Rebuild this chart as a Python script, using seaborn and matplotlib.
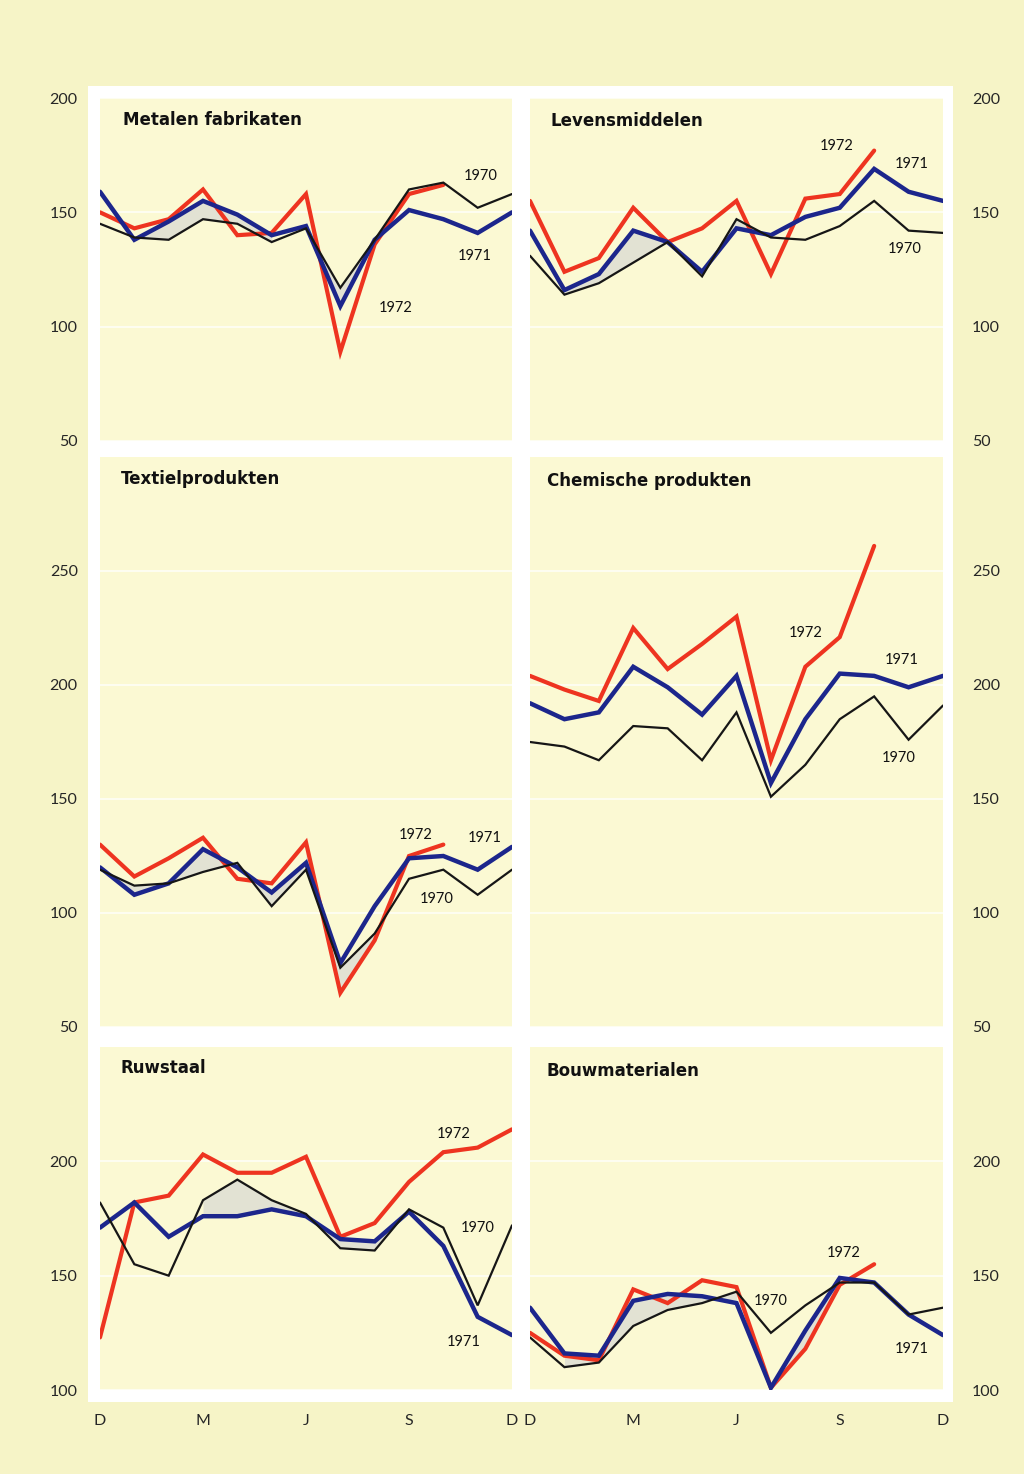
import matplotlib
matplotlib.use("Agg")
import matplotlib.pyplot as plt
from matplotlib.patches import Rectangle
import pandas as pd
import seaborn as sns

# months Dec .. Dec
months = list(range(13))
month_labels = ["D", "", "", "M", "", "", "J", "", "", "S", "", "", "D"]

# Metalen fabrikaten
metalen_1970 = [145, 139, 138, 147, 145, 137, 143, 117, 138, 160, 163, 152, 158]
metalen_1971 = [159, 138, 146, 155, 149, 140, 144, 109, 138, 151, 147, 141, 150]
metalen_1972 = [150, 143, 147, 160, 140, 141, 158, 89, 136, 158, 162]

# Levensmiddelen
levens_1970 = [131, 114, 119, 128, 137, 122, 147, 139, 138, 144, 155, 142, 141]
levens_1971 = [142, 116, 123, 142, 137, 124, 143, 140, 148, 152, 169, 159, 155]
levens_1972 = [155, 124, 130, 152, 137, 143, 155, 123, 156, 158, 177]

# Textielprodukten
textiel_1970 = [119, 112, 113, 118, 122, 103, 119, 76, 91, 115, 119, 108, 119]
textiel_1971 = [120, 108, 113, 128, 120, 109, 122, 78, 103, 124, 125, 119, 129]
textiel_1972 = [130, 116, 124, 133, 115, 113, 131, 65, 88, 125, 130]

# Chemische produkten
chemie_1970 = [175, 173, 167, 182, 181, 167, 188, 151, 165, 185, 195, 176, 191]
chemie_1971 = [192, 185, 188, 208, 199, 187, 204, 157, 185, 205, 204, 199, 204]
chemie_1972 = [204, 198, 193, 225, 207, 218, 230, 167, 208, 221, 261]

# Ruwstaal
staal_1970 = [182, 155, 150, 183, 192, 183, 177, 162, 161, 179, 171, 137, 172]
staal_1971 = [171, 182, 167, 176, 176, 179, 176, 166, 165, 178, 163, 132, 124]
staal_1972 = [123, 182, 185, 203, 195, 195, 202, 167, 173, 191, 204, 206, 214]

# Bouwmaterialen
bouw_1970 = [123, 110, 112, 128, 135, 138, 143, 125, 137, 147, 147, 133, 136]
bouw_1971 = [136, 116, 115, 139, 142, 141, 138, 101, 126, 149, 147, 133, 124]
bouw_1972 = [125, 115, 113, 144, 138, 148, 145, 101, 118, 146, 155]

titles = ["Metalen fabrikaten", "Levensmiddelen", "Textielprodukten",
          "Chemische produkten", "Ruwstaal", "Bouwmaterialen"]
series = [
    (metalen_1970, metalen_1971, metalen_1972),
    (levens_1970, levens_1971, levens_1972),
    (textiel_1970, textiel_1971, textiel_1972),
    (chemie_1970, chemie_1971, chemie_1972),
    (staal_1970, staal_1971, staal_1972),
    (bouw_1970, bouw_1971, bouw_1972),
]

# shaded bands: (series a, series b, first month, last month)
shading = [
    [(0, 1, 1, 5), (0, 1, 6, 8)],
    [(0, 1, 1, 4), (0, 1, 5, 7)],
    [(0, 1, 0, 6), (0, 2, 6, 8)],
    [],
    [(0, 1, 3, 9)],
    [(0, 1, 1, 6), (1, 2, 7, 9)],
]

# year label placement (month, value)
year_pos = [
    {"1970": (11.1, 166), "1971": (10.9, 131), "1972": (8.6, 108)},
    {"1970": (10.9, 134), "1971": (11.1, 171), "1972": (8.9, 179)},
    {"1970": (9.8, 106), "1971": (11.2, 133), "1972": (9.2, 134)},
    {"1970": (10.7, 168), "1971": (10.8, 211), "1972": (8.0, 223)},
    {"1970": (11.0, 171), "1971": (10.6, 121), "1972": (10.3, 212)},
    {"1970": (7.0, 139), "1971": (11.1, 118), "1972": (9.1, 160)},
]
title_off = [(23, 22), (21, 23), (21, 22), (17, 24), (21, 21), (17, 24)]

page = "#f6f4c7"
panel = "#fbf9d3"
colors = {"1970": "#161616", "1971": "#1c268c", "1972": "#ee3420"}
widths = {"1970": 1.6, "1971": 3.2, "1972": 3.0}

sns.set_style("white")
plt.rcParams["font.family"] = ["Lato", "DejaVu Sans"]

W, H = 1024, 1474
fig = plt.figure(figsize=(W / 100, H / 100), dpi=100, facecolor=page)
fig.patches.append(Rectangle((88 / W, 1 - 1402 / H), (953 - 88) / W, (1402 - 86) / H,
                             transform=fig.transFigure, facecolor="white",
                             edgecolor="none", zorder=-5))

cols = [(100, 512), (530, 943)]
rows = [(98, 441, 50, 200, [50, 100, 150, 200]),
        (457, 1027, 50, 300, [50, 100, 150, 200, 250]),
        (1047, 1390, 100, 250, [100, 150, 200])]

for k in range(6):
    r, c = divmod(k, 2)
    x0, x1 = cols[c]
    y0, y1, lo, hi, ticks = rows[r]
    ax = fig.add_axes([x0 / W, 1 - y1 / H, (x1 - x0) / W, (y1 - y0) / H])
    ax.set_zorder(2)
    ax.set_facecolor(panel)
    for s in ax.spines.values():
        s.set_visible(False)
    ax.set_axisbelow(True)

    data = series[k]
    for a, b, m0, m1 in shading[k]:
        ax.fill_between(months[m0:m1 + 1], data[a][m0:m1 + 1], data[b][m0:m1 + 1],
                        color="#e2e2d3", lw=0, zorder=1)

    frames = []
    for year, vals in zip(["1970", "1971", "1972"], data):
        frames.append(pd.DataFrame({"month": months[:len(vals)], "index": vals, "year": year}))
    df = pd.concat(frames)
    for year in ["1972", "1971", "1970"]:
        sub = df[df["year"] == year]
        sns.lineplot(data=sub, x="month", y="index", ax=ax, color=colors[year],
                     lw=widths[year], zorder=3, solid_joinstyle="miter")
        mx, my = year_pos[k][year]
        ax.text(mx, my, year, ha="center", va="center", fontsize=10.5, color="#111111", zorder=4)

    ax.set(xlabel="", ylabel="")
    ax.set_xlim(0, 12)
    ax.set_ylim(lo, hi)
    ax.set_yticks(ticks)
    ax.yaxis.grid(True, color="white", lw=1.3, alpha=0.75)
    ax.xaxis.grid(False)
    if c == 1:
        ax.yaxis.tick_right()
        ax.tick_params(axis="y", length=0, pad=21, labelsize=11.5)
    else:
        ax.tick_params(axis="y", length=0, pad=16, labelsize=11.5)
    ax.set_xticks(months)
    ax.set_xticklabels(month_labels if r == 2 else [""] * 13)
    ax.tick_params(axis="x", direction="in", length=7, width=1.2, color="white",
                   pad=17, labelsize=11.5)

    dx, dy = title_off[k]
    ax.annotate(titles[k], xy=(0, 1), xycoords="axes fraction",
                xytext=(dx * 0.72, -dy * 0.72), textcoords="offset points",
                ha="left", va="center", fontsize=12, fontweight="bold",
                family=["DejaVu Sans"], color="#111111")

fig.savefig("out.png", dpi=100, facecolor=page)
